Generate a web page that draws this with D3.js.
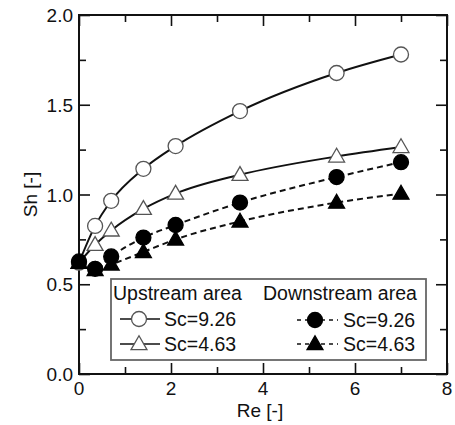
<!DOCTYPE html>
<html>
<head>
<meta charset="utf-8">
<script src="https://cdn.jsdelivr.net/npm/d3@7"></script>
<style>
  body { margin: 0; background: #fff; }
  text { font-family: "Liberation Sans", Arial, sans-serif; fill: #111; }
</style>
</head>
<body>
<script>
// Re values (shared by all series)
let re = [0, 0.35, 0.7, 1.4, 2.1, 3.5, 5.6, 7.0];

// Sh values
let upSc926 = [0.62, 0.825, 0.965, 1.143, 1.27, 1.465, 1.677, 1.78];
let upSc463 = [0.62, 0.72, 0.80, 0.92, 1.005, 1.11, 1.212, 1.265];
let downSc926 = [0.627, 0.586, 0.655, 0.76, 0.83, 0.955, 1.097, 1.18];
let downSc463 = [0.62, 0.58, 0.61, 0.68, 0.75, 0.85, 0.955, 1.005];

let xTicks = [0, 2, 4, 6, 8];
let xMinor = [1, 3, 5, 7];
let yTicks = [0, 0.5, 1.0, 1.5, 2.0];
let yMinor = [0.25, 0.75, 1.25, 1.75];

let W = 455, H = 425;
let pLeft = 79, pRight = 447, pTop = 15, pBottom = 374;

let x = d3.scaleLinear().domain([0, 8]).range([pLeft, pRight]);
let y = d3.scaleLinear().domain([0, 2]).range([pBottom, pTop]);

let svg = d3
  .select("body")
  .append("svg")
  .attr("width", W)
  .attr("height", H);

// ticks (inward, all four sides)
let tickAxis = (axisFn, scale, vals, size, tx, ty) => {
  svg
    .append("g")
    .attr("transform", `translate(${tx},${ty})`)
    .call(axisFn(scale).tickValues(vals).tickSize(-size).tickFormat(""))
    .call(g => g.select(".domain").remove())
    .call(g => g.selectAll("line").attr("stroke", "#111").attr("stroke-width", 1.6));
};
tickAxis(d3.axisBottom, x, xTicks, 11, 0, pBottom);
tickAxis(d3.axisBottom, x, xMinor, 7, 0, pBottom);
tickAxis(d3.axisTop, x, xTicks, 11, 0, pTop);
tickAxis(d3.axisTop, x, xMinor, 7, 0, pTop);
tickAxis(d3.axisLeft, y, yTicks, 11, pLeft, 0);
tickAxis(d3.axisLeft, y, yMinor, 7, pLeft, 0);
tickAxis(d3.axisRight, y, yTicks, 11, pRight, 0);
tickAxis(d3.axisRight, y, yMinor, 7, pRight, 0);

// frame
svg
  .append("rect")
  .attr("x", pLeft)
  .attr("y", pTop)
  .attr("width", pRight - pLeft)
  .attr("height", pBottom - pTop)
  .attr("fill", "none")
  .attr("stroke", "#111")
  .attr("stroke-width", 2);

// tick labels
svg
  .selectAll(".xl")
  .data(xTicks)
  .enter()
  .append("text")
  .attr("x", d => x(d))
  .attr("y", 395)
  .attr("text-anchor", "middle")
  .style("font-size", "19px")
  .text(d => d);

svg
  .selectAll(".yl")
  .data(yTicks)
  .enter()
  .append("text")
  .attr("x", 73)
  .attr("y", d => y(d) + 7)
  .attr("text-anchor", "end")
  .style("font-size", "19px")
  .text(d => d3.format(".1f")(d));

// axis titles
svg
  .append("text")
  .attr("x", (pLeft + pRight) / 2 - 3)
  .attr("y", 417)
  .attr("text-anchor", "middle")
  .style("font-size", "19px")
  .text("Re [-]");

svg
  .append("text")
  .attr("transform", `translate(37, ${(pTop + pBottom) / 2}) rotate(-90)`)
  .attr("text-anchor", "middle")
  .style("font-size", "19px")
  .text("Sh [-]");

// series
let series = [
  { vals: upSc926, shape: "circle", fill: "#fff", dash: null },
  { vals: upSc463, shape: "triangle", fill: "#fff", dash: null },
  { vals: downSc926, shape: "circle", fill: "#000", dash: "6,4" },
  { vals: downSc463, shape: "triangle", fill: "#000", dash: "6,4" }
];

let line = d3
  .line()
  .x(d => x(d[0]))
  .y(d => y(d[1]))
  .curve(d3.curveMonotoneX);

let circleSym = d3.symbol().type(d3.symbolCircle).size(Math.PI * 7.5 * 7.5);
let triSym = d3.symbol().type(d3.symbolTriangle).size(110);

let marker = (g, shape, fill, cx, cy) => {
  g.append("path")
    .attr("d", shape === "circle" ? circleSym() : triSym())
    .attr("transform", `translate(${cx},${cy + (shape === "circle" ? 0 : 1)})`)
    .attr("fill", fill)
    .attr("stroke", fill === "#fff" ? "#555" : "#000")
    .attr("stroke-width", 1.3);
};

// lines first
series.forEach(s => {
  let pts = re.map((r, i) => [r, s.vals[i]]);
  svg
    .append("path")
    .attr("d", line(pts))
    .attr("fill", "none")
    .attr("stroke", "#111")
    .attr("stroke-width", 2)
    .attr("stroke-dasharray", s.dash);
});

// markers on top
series.forEach(s => {
  let g = svg.append("g");
  re.forEach((r, i) => marker(g, s.shape, s.fill, x(r), y(s.vals[i])));
});

// legend
let lg = svg.append("g");
lg.append("rect")
  .attr("x", 111)
  .attr("y", 279)
  .attr("width", 315)
  .attr("height", 81)
  .attr("fill", "#fff")
  .attr("stroke", "#666")
  .attr("stroke-width", 1.8);

lg.append("text").attr("x", 113).attr("y", 300).style("font-size", "19.5px").text("Upstream area");
lg.append("text").attr("x", 263).attr("y", 300).style("font-size", "19.5px").text("Downstream area");

let legendRows = [
  { x0: 120, x1: 160, mx: 139, tx: 164, y: 319, label: "Sc=9.26", s: series[0] },
  { x0: 120, x1: 160, mx: 139, tx: 164, y: 344, label: "Sc=4.63", s: series[1] },
  { x0: 297, x1: 338, mx: 315, tx: 343, y: 320, label: "Sc=9.26", s: series[2] },
  { x0: 297, x1: 338, mx: 315, tx: 343, y: 344, label: "Sc=4.63", s: series[3] }
];

legendRows.forEach(r => {
  lg.append("line")
    .attr("x1", r.x0)
    .attr("x2", r.x1)
    .attr("y1", r.y)
    .attr("y2", r.y)
    .attr("stroke", "#111")
    .attr("stroke-width", 1.6)
    .attr("stroke-dasharray", r.s.dash ? "4,4" : null);
  marker(lg, r.s.shape, r.s.fill, r.mx, r.y);
  lg.append("text")
    .attr("x", r.tx)
    .attr("y", r.y + 6.5)
    .style("font-size", "19.5px")
    .text(r.label);
});
</script>
</body>
</html>
